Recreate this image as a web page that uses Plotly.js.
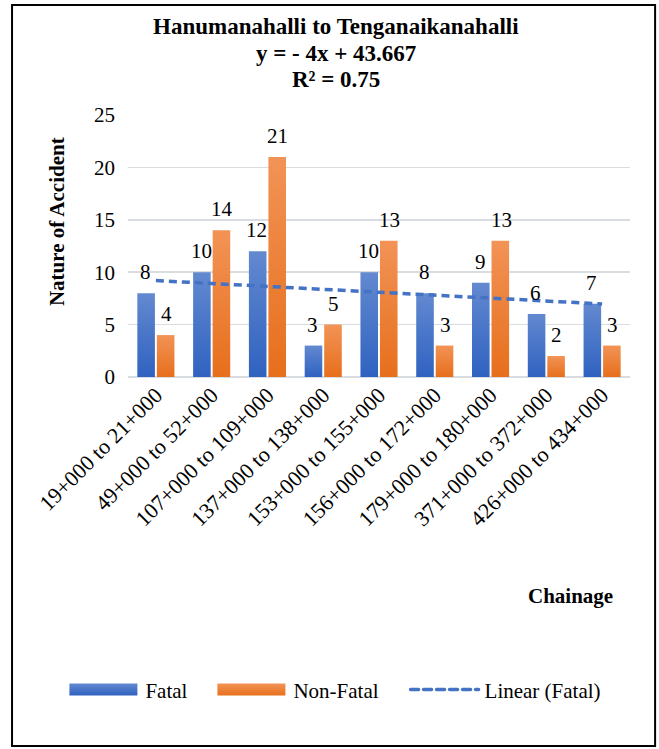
<!DOCTYPE html>
<html>
<head>
<meta charset="utf-8">
<script src="https://cdn.plot.ly/plotly-3.0.1.min.js"></script>
<style>
  html, body { margin: 0; padding: 0; background: #fff; }
  #chart { width: 659px; height: 749px; }
</style>
</head>
<body>
<div id="chart"></div>
<script>
// ---- data ----
const categories = [
  "19+000 to 21+000", "49+000 to 52+000", "107+000 to 109+000",
  "137+000 to 138+000", "153+000 to 155+000", "156+000 to 172+000",
  "179+000 to 180+000", "371+000 to 372+000", "426+000 to 434+000"
];
const fatal = [8, 10, 12, 3, 10, 8, 9, 6, 7];
const nonFatal = [4, 14, 21, 5, 13, 3, 13, 2, 3];
// trend line end points (first and last category)
const trendX = [categories[0], categories[categories.length - 1]];
const trendY = [9.2, 6.97];
const yTicks = [0, 5, 10, 15, 20, 25];
const titleLines = ["Hanumanahalli to Tenganaikanahalli", "y = - 4x + 43.667", "R² = 0.75"];

const serif = "Liberation Serif, Times New Roman, serif";
const BLUE = "#4472C4", ORANGE = "#ED7D31";
const FS = 21;

const traces = [
  { type: "bar", name: "Fatal", x: categories, y: fatal, marker: { color: BLUE }, hoverinfo: "skip" },
  { type: "bar", name: "Non-Fatal", x: categories, y: nonFatal, marker: { color: ORANGE }, hoverinfo: "skip" },
  {
    type: "scatter", mode: "lines", name: "Linear (Fatal)",
    x: trendX, y: trendY,
    line: { color: BLUE, width: 3.5, dash: "8px,5px" },
    hoverinfo: "skip"
  }
];

// value labels above the bars
const labelFont = { family: serif, size: FS, color: "#000" };
const valueLabels = [];
categories.forEach((c, i) => {
  valueLabels.push({ xref: "x", yref: "y", x: c, y: fatal[i], text: String(fatal[i]),
    showarrow: false, xshift: -10.5, yshift: 21, xanchor: "center", yanchor: "middle", font: labelFont });
  valueLabels.push({ xref: "x", yref: "y", x: c, y: nonFatal[i], text: String(nonFatal[i]),
    showarrow: false, xshift: 10.5, yshift: 21, xanchor: "center", yanchor: "middle", font: labelFont });
});

// title lines as separate annotations (tight line spacing as in the original)
const titleY = [1.336, 1.236, 1.134];
const titleAnn = titleLines.map((t, i) => ({
  text: "<b>" + t + "</b>", xref: "paper", yref: "paper", x: 0.414, y: titleY[i],
  xanchor: "center", yanchor: "middle", showarrow: false,
  font: { family: serif, size: 23, color: "#000" }
}));

const layout = {
  width: 659, height: 749,
  paper_bgcolor: "#fff", plot_bgcolor: "#fff",
  font: { family: serif, size: FS, color: "#000" },
  margin: { l: 128, r: 29, t: 115, b: 372 },
  barmode: "group", bargap: 0.3, bargroupgap: 0.1,
  showlegend: true,
  legend: {
    orientation: "h", x: 0.5, xref: "container", xanchor: "center",
    y: 0.079, yref: "container", yanchor: "middle",
    font: { family: serif, size: FS, color: "#000" },
    itemwidth: 30, tracegroupgap: 0
  },
  xaxis: {
    type: "category", tickangle: -45, showgrid: false, showline: false,
    ticks: "", tickfont: { family: serif, size: 22, color: "#000" },
    automargin: false
  },
  yaxis: {
    range: [0, 25], tickvals: yTicks, ticktext: yTicks.map(String),
    showgrid: true, gridcolor: "#D9DDE2", gridwidth: 1.5,
    zeroline: true, zerolinecolor: "#D9DDE2", zerolinewidth: 1.5,
    showline: false, ticks: "", ticklabelstandoff: 12,
    tickfont: { family: serif, size: FS, color: "#000" },
    automargin: false
  },
  annotations: titleAnn.concat([
    {
      text: "<b>Nature of Accident</b>", textangle: -90,
      xref: "paper", yref: "paper", x: -0.141, y: 0.592,
      xanchor: "center", yanchor: "middle",
      showarrow: false, font: { family: serif, size: 21, color: "#000" }
    },
    {
      text: "<b>Chainage</b>",
      xref: "paper", yref: "paper", x: 0.882, y: -0.836,
      xanchor: "center", yanchor: "middle",
      showarrow: false, font: { family: serif, size: 21, color: "#000" }
    }
  ]).concat(valueLabels),
  shapes: [
    {
      type: "rect", xref: "paper", yref: "paper",
      x0: -0.231, x1: 1.05, y0: -1.408, y1: 1.42,
      line: { color: "#000", width: 2 }, fillcolor: "rgba(0,0,0,0)", layer: "above"
    }
  ]
};

Plotly.newPlot("chart", traces, layout, { staticPlot: true, displayModeBar: false }).then(gd => {
  const svg = gd.querySelector("svg.main-svg");
  const ns = "http://www.w3.org/2000/svg";
  const defs = svg.querySelector("defs");
  function grad(id, top, bottom) {
    const g = document.createElementNS(ns, "linearGradient");
    g.setAttribute("id", id);
    g.setAttribute("x1", "0"); g.setAttribute("y1", "0");
    g.setAttribute("x2", "0"); g.setAttribute("y2", "1");
    [[0, top], [1, bottom]].forEach(([o, c]) => {
      const s = document.createElementNS(ns, "stop");
      s.setAttribute("offset", o); s.setAttribute("stop-color", c);
      g.appendChild(s);
    });
    defs.appendChild(g);
  }
  grad("gBlue", "#6389D0", "#2F62C0");
  grad("gOrange", "#F29356", "#E76F1C");
  const ids = ["gBlue", "gOrange"];
  gd.querySelectorAll(".barlayer .trace.bars").forEach((t, i) => {
    t.querySelectorAll("path").forEach(p => { p.style.fill = "url(#" + ids[i] + ")"; });
  });

  // legend: wide swatches and spacing like the original office legend
  const legend = gd.querySelector(".legend");
  if (!legend) return;
  const sb = legend.querySelector(".scrollbox");
  if (sb) sb.removeAttribute("clip-path");
  legend.querySelectorAll("[clip-path]").forEach(n => n.removeAttribute("clip-path"));
  const bg = legend.querySelector("rect.bg");
  if (bg) bg.style.display = "none";
  const m = /translate\(\s*([-\d.]+)[ ,]+([-\d.]+)/.exec(legend.getAttribute("transform") || "");
  const legX = m ? parseFloat(m[1]) : 0;
  const items = Array.from(legend.querySelectorAll(".traces"));
  const SW = 68, GAP_T = 8, GAP_I = 30;
  const widths = items.map(it => {
    const t = it.querySelector("text.legendtext");
    return t ? t.getComputedTextLength() : 0;
  });
  const total = widths.reduce((s, w) => s + SW + GAP_T + w, 0) + GAP_I * (items.length - 1);
  let x = 335 - total / 2;
  let yFirst = null;
  items.forEach((it, i) => {
    const mm = /translate\(\s*([-\d.]+)[ ,]+([-\d.]+)/.exec(it.getAttribute("transform") || "");
    const ty = mm ? parseFloat(mm[2]) : 0;
    if (yFirst === null) yFirst = ty;
    it.setAttribute("transform", `translate(${x - legX},${yFirst})`);
    const txt = it.querySelector("text.legendtext");
    if (txt) { txt.setAttribute("x", SW + GAP_T); txt.setAttribute("text-anchor", "start"); }
    if (i < 2) {
      it.querySelectorAll(".legendpoints path").forEach(p => {
        p.setAttribute("d", `M0,6H${SW}V-6H0Z`);
        p.removeAttribute("transform");
        p.style.fill = "url(#" + ids[i] + ")";
        p.style.stroke = "none";
      });
    } else {
      it.querySelectorAll(".legendlines path").forEach(p => {
        p.setAttribute("d", `M2,0H${SW + 2}`);
        p.removeAttribute("transform");
        p.style.strokeDasharray = "8px,5px";
        p.style.strokeLinecap = "round";
      });
    }
    x += SW + GAP_T + widths[i] + GAP_I;
  });
});
</script>
</body>
</html>
